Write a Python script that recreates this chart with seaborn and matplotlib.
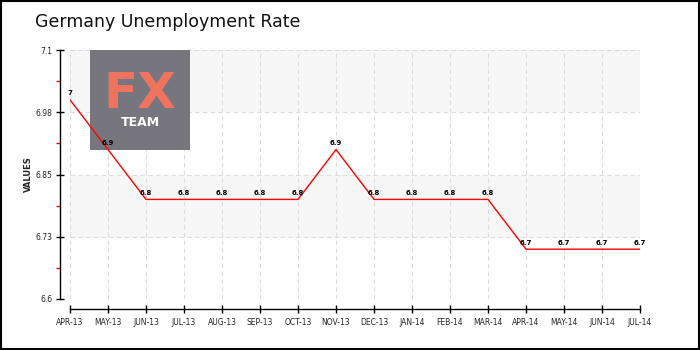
import matplotlib
matplotlib.use("Agg")
import matplotlib.pyplot as plt
from matplotlib.patches import Rectangle
import seaborn as sns
import pandas as pd
import numpy as np

months = ["APR-13", "MAY-13", "JUN-13", "JUL-13", "AUG-13", "SEP-13", "OCT-13",
          "NOV-13", "DEC-13", "JAN-14", "FEB-14", "MAR-14", "APR-14", "MAY-14",
          "JUN-14", "JUL-14"]
values = [7.0, 6.9, 6.8, 6.8, 6.8, 6.8, 6.8, 6.9, 6.8, 6.8, 6.8, 6.8, 6.7, 6.7, 6.7, 6.7]
point_labels = ["7", "6.9", "6.8", "6.8", "6.8", "6.8", "6.8", "6.9", "6.8", "6.8",
                "6.8", "6.8", "6.7", "6.7", "6.7", "6.7"]
y_ticks = [6.6, 6.725, 6.85, 6.975, 7.1]
y_tick_labels = ["6.6", "6.73", "6.85", "6.98", "7.1"]
y_minor = [6.6625, 6.7875, 6.9125, 7.0375]
title = "Germany Unemployment Rate"

sns.set_style("white")
plt.rcParams["font.family"] = ["DejaVu Sans"]

df = pd.DataFrame({"pos": np.arange(len(months)), "value": values})

fig = plt.figure(figsize=(7, 3.5), dpi=100)
ax = fig.add_axes([70 / 700, 1 - 299 / 350, 570 / 700, 249 / 350])

# bands
ax.axhspan(y_ticks[3], y_ticks[4], color="#f7f7f7", zorder=0, lw=0)
ax.axhspan(y_ticks[1], y_ticks[2], color="#f7f7f7", zorder=0, lw=0)

sns.lineplot(data=df, x="pos", y="value", color="#ff0000", lw=1.0, ax=ax,
             sort=False, zorder=3)

for x, v, lab in zip(df["pos"], values, point_labels):
    ax.annotate(lab, (x, v), xytext=(0, 2.5), textcoords="offset points",
                ha="center", va="bottom", fontsize=5, fontweight="bold",
                color="black", zorder=5)

ax.set_xlim(0, len(months) - 1)
ax.set_ylim(y_ticks[0], y_ticks[-1])
ax.set_xticks(df["pos"])
ax.set_xticklabels(months, fontweight="bold")
ax.set_yticks(y_ticks)
ax.set_yticklabels(y_tick_labels, fontweight="bold")
ax.set_yticks(y_minor, minor=True)
ax.tick_params(axis="y", which="major", direction="inout", length=6, width=1,
               color="black", pad=2, labelsize=5.5, left=True)
ax.tick_params(axis="y", which="minor", direction="out", length=3, width=1,
               color="#ff0000", left=True)
ax.tick_params(axis="x", which="major", direction="inout", length=6, width=1,
               color="black", pad=3, bottom=True, labelsize=5.5)

ax.grid(True, which="major", color="#dddddd", linestyle=(0, (4, 3)), lw=0.8, zorder=0)
ax.set_axisbelow(True)

for s in ["top", "right"]:
    ax.spines[s].set_visible(False)
ax.spines["left"].set_position(("outward", 7.5))
ax.spines["bottom"].set_position(("outward", 7.5))
ax.spines["left"].set_color("black")
ax.spines["bottom"].set_color("black")
ax.spines["left"].set_linewidth(1)
ax.spines["bottom"].set_linewidth(1)

ax.set_xlabel("")
ax.set_ylabel("VALUES", fontsize=6, labelpad=2, fontweight="bold")

# logo
x0 = 20 / 570
y0 = 1 - 100 / 249
ax.add_patch(Rectangle((x0, y0), 100 / 570, 100 / 249, transform=ax.transAxes,
                       facecolor="#77767e", edgecolor="none", zorder=2, clip_on=False))
ax.text(x0 + 50 / 570, 1 - 44 / 249, "FX", transform=ax.transAxes, ha="center",
        va="center", fontsize=36, color="#f0735e", fontweight="semibold", zorder=2.5)
ax.text(x0 + 50 / 570, 1 - 73 / 249, "TEAM", transform=ax.transAxes, ha="center",
        va="center", fontsize=9, color="white", fontweight="bold", zorder=2.5)

fig.text(35 / 700, 1 - 22 / 350, title, ha="left", va="center", fontsize=12.5,
         color="#111111")

fig.patches.append(Rectangle((0.001, 0.002), 0.997, 0.995, transform=fig.transFigure,
                             fill=False, edgecolor="black", lw=1.5))

fig.savefig("out.png", dpi=100)
